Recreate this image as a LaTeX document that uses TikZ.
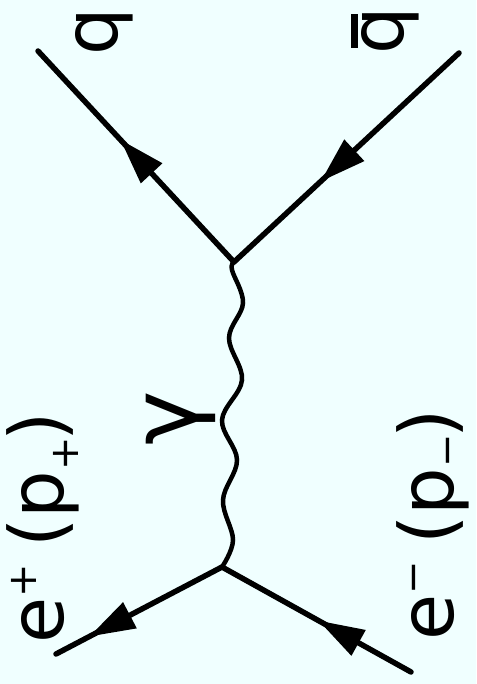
\documentclass[tikz,border=0pt]{standalone}
\usepackage{fontspec}
\setmainfont{DejaVu Sans}
\usetikzlibrary{decorations.markings,arrows.meta}
\definecolor{bg}{RGB}{240,255,255}
\newcommand\supsign[1]{\raisebox{0.36em}{\fontsize{40}{40}\selectfont #1}}
\newcommand\subsign[2]{\raisebox{#1}{\fontsize{40}{40}\selectfont #2}}
\newcommand\qbarglyph{\ooalign{q\cr\hidewidth\rule[0.6em]{0.45em}{0.1em}\hidewidth}}
\begin{document}
\begin{tikzpicture}[x=1pt,y=-1pt,
  fermion/.style={line width=5.5pt, line cap=round},
  photon/.style={line width=4.5pt, line cap=round},
  arrowat/.style={postaction={decorate, decoration={markings,
    mark=at position #1 with {\arrow{Triangle[length=46pt,width=28pt]}}}}},
  lbl/.style={rotate=90, inner sep=0pt, font=\fontsize{75}{75}\selectfont},
]
\path[use as bounding box, fill=bg] (0,0) rectangle (476,684);

\coordinate (V1) at (234,262);
\coordinate (V2) at (222,567);
\coordinate (Q) at (38,51);
\coordinate (Qb) at (459,53);
\coordinate (Ep) at (56,654);
\coordinate (Em) at (411,672);

\draw[fermion, arrowat=0.58] (V1) -- (Q);
\draw[fermion, arrowat=0.615] (Qb) -- (V1);
\draw[fermion, arrowat=0.8] (V2) -- (Ep);
\draw[fermion, arrowat=0.49] (Em) -- (V2);
\draw[photon] plot[smooth, tension=0.6] coordinates
  {(V1) (232,270) (243,303) (229,338) (242,380) (222,420) (237,460) (223,500) (233,540) (V2)};

\node[lbl, anchor=base] (q) at (117,32) {q};
\node[lbl, anchor=base] (qbar) at (403,31) {\qbarglyph};
\node[lbl, anchor=center, font=\fontsize{92}{92}\selectfont] (gamma) at (181,418) {γ};
\node[lbl, anchor=base west] (ep) at (63,644) {e\supsign{+}\hspace{0.22em}(p\subsign{-0.2em}{+}\hspace{-0.05em})};
\node[lbl, anchor=base west] (em) at (453,641) {e\supsign{−}\hspace{0.22em}(p\subsign{-0.1em}{−}\hspace{-0.05em})};
\end{tikzpicture}
\end{document}
